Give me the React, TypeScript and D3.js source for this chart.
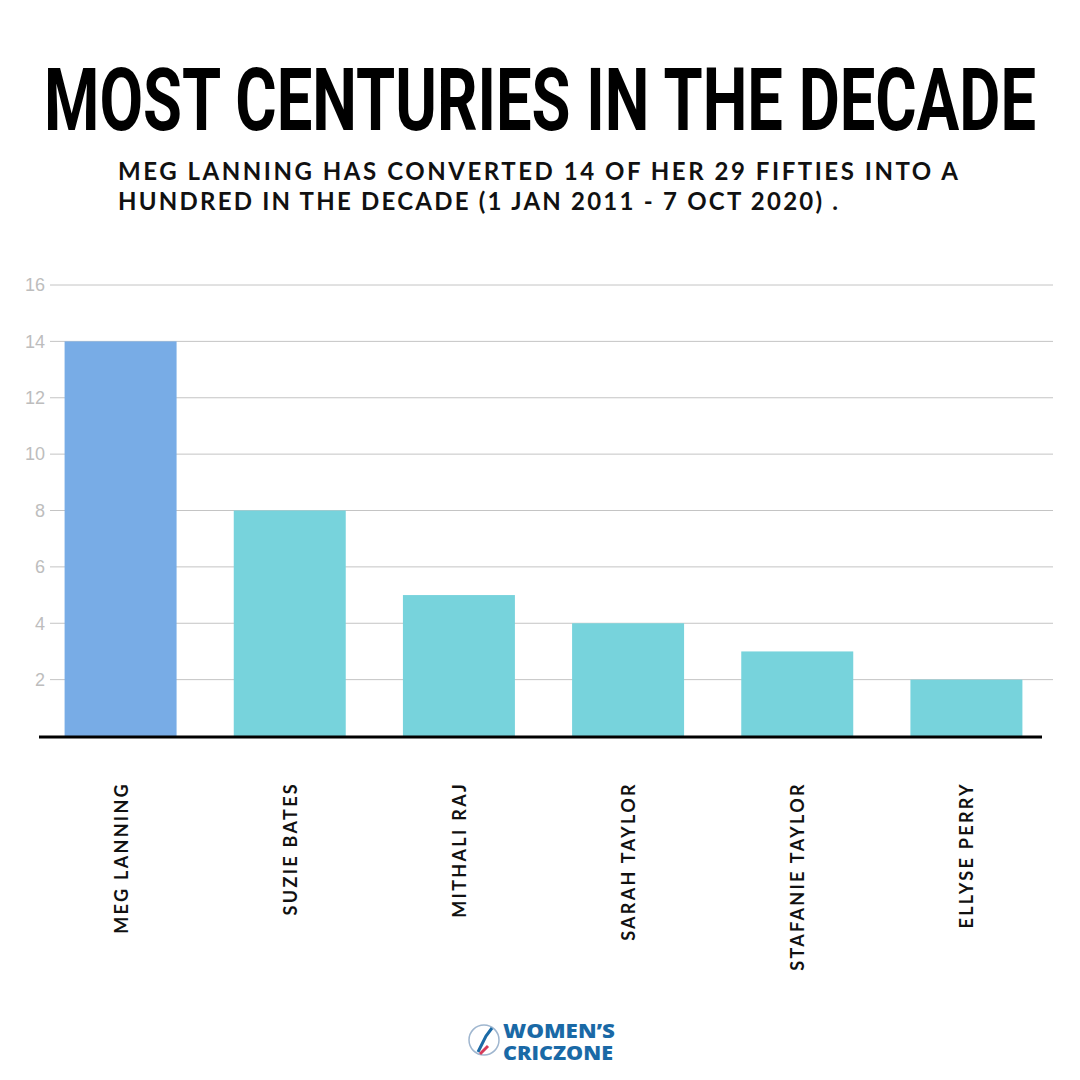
import React from "react";
import * as d3 from "d3";

const players = ["MEG LANNING", "SUZIE BATES", "MITHALI RAJ", "SARAH TAYLOR", "STAFANIE TAYLOR", "ELLYSE PERRY"];
const centuries = [14, 8, 5, 4, 3, 2];
const yTicks = [2, 4, 6, 8, 10, 12, 14, 16];
const title = "MOST CENTURIES IN THE DECADE";
const subtitleLines = [
  "MEG LANNING HAS CONVERTED 14 OF HER 29 FIFTIES INTO A",
  "HUNDRED IN THE DECADE (1 JAN 2011 - 7 OCT 2020) .",
];

export default function App() {
  const W = 1080, H = 1080;
  const x = d3.scaleBand<string>().domain(players).range([36, 1051]).paddingInner(0.338).paddingOuter(0.169);
  const y = d3.scaleLinear().domain([0, 16]).range([736, 285]);

  return (
    <svg width={W} height={H} viewBox={`0 0 ${W} ${H}`} style={{ position: "absolute", left: 0, top: 0, background: "#fff" }}>
      <rect width={W} height={H} fill="#fff" />
      <text x={44} y={130} textLength={992} lengthAdjust="spacingAndGlyphs"
        fontFamily="Roboto" fontWeight={700} fontSize={88} fill="#000">{title}</text>
      {subtitleLines.map((l, i) => (
        <text key={i} x={118} y={180 + i * 30} textLength={i === 0 ? 840 : 720} lengthAdjust="spacing"
          fontFamily="Lato" fontWeight={700} fontSize={24} fill="#111">{l}</text>
      ))}
      {yTicks.map(t => (
        <g key={t}>
          <line x1={50} x2={1053} y1={y(t)} y2={y(t)} stroke="#c4c4c4" strokeWidth={1} />
          <text x={45} y={y(t)} dy="0.35em" textAnchor="end" fontFamily="Liberation Sans" fontSize={18} fill="#bdbdbd">{t}</text>
        </g>
      ))}
      {players.map((p, i) => (
        <rect key={p} x={x(p)} y={y(centuries[i])} width={x.bandwidth()} height={y(0) - y(centuries[i])}
          fill={i === 0 ? "#78ace6" : "#77d3dc"} />
      ))}
      <line x1={39} x2={1042} y1={y(0) + 1} y2={y(0) + 1} stroke="#000" strokeWidth={3} />
      {players.map(p => {
        const cx = (x(p) as number) + x.bandwidth() / 2;
        return (
          <text key={p} transform={`translate(${cx + 7},782) rotate(-90)`} textAnchor="end"
            fontFamily="Lato" fontWeight={700} fontSize={18} letterSpacing={2.3} fill="#111">{p}</text>
        );
      })}
      <g>
        <circle cx={484} cy={1040} r={15} fill="none" stroke="#9fb6cf" strokeWidth={1.5} />
        <path d="M478 1052 L486 1036 L492 1028" stroke="#1b6aa6" strokeWidth={3} fill="none" />
        <path d="M480 1054 L488 1046" stroke="#d63b5a" strokeWidth={3} fill="none" />
        <text x={503} y={1038} textLength={112} lengthAdjust="spacingAndGlyphs" fontFamily="Open Sans" fontWeight={800} fontSize={20} fill="#1a69a6">WOMEN’S</text>
        <text x={503} y={1060} textLength={110} lengthAdjust="spacingAndGlyphs" fontFamily="Open Sans" fontWeight={800} fontSize={20} fill="#1a69a6">CRICZONE</text>
      </g>
    </svg>
  );
}
